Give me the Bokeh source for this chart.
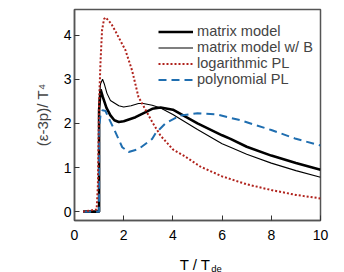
from bokeh.plotting import figure
from bokeh.layouts import column
from bokeh.models import Legend, LegendItem, Range1d
from bokeh.core.properties import value
from bokeh.embed import file_html
from bokeh.resources import INLINE

# ---- data ----
t_mm = [0.35, 1.0, 1.0, 1.06, 1.15, 1.3, 1.46, 1.62, 1.8, 2.0, 2.48, 3.16, 3.5, 4.0, 5.0, 6.0, 6.34, 7.0, 8.0, 9.0, 10.0]
v_mm = [0.0, 0.0, 2.3, 2.77, 2.6, 2.35, 2.18, 2.07, 2.03, 2.05, 2.14, 2.33, 2.36, 2.31, 2.0, 1.73, 1.65, 1.47, 1.27, 1.1, 0.95]

t_mb = [0.35, 1.0, 1.0, 1.06, 1.14, 1.22, 1.32, 1.46, 1.8, 2.0, 2.3, 2.6, 2.8, 3.16, 3.5, 4.0, 5.0, 6.0, 6.34, 7.0, 8.0, 9.0, 10.0]
v_mb = [0.0, 0.0, 2.5, 2.9, 3.0, 2.88, 2.68, 2.52, 2.4, 2.37, 2.4, 2.45, 2.45, 2.41, 2.35, 2.2, 1.86, 1.54, 1.46, 1.3, 1.1, 0.93, 0.78]

t_log = [0.35, 0.9, 0.95, 1.0, 1.06, 1.12, 1.2, 1.26, 1.35, 1.5, 1.67, 2.07, 2.34, 2.6, 3.16, 3.5, 4.0, 4.44, 5.12, 6.0, 7.0, 8.0, 9.0, 10.0]
v_log = [0.0, 0.05, 0.6, 2.5, 3.43, 4.11, 4.36, 4.4, 4.35, 4.25, 4.08, 3.66, 3.2, 2.6, 2.03, 1.72, 1.41, 1.27, 1.02, 0.8, 0.62, 0.49, 0.38, 0.3]

t_poly = [0.35, 1.0, 1.0, 1.06, 1.14, 1.26, 1.45, 1.6, 1.94, 2.2, 2.61, 3.16, 3.3, 3.7, 4.3, 5.0, 5.8, 6.75, 8.0, 9.0, 10.0]
v_poly = [0.0, 0.0, 1.9, 2.2, 2.3, 2.28, 2.05, 1.88, 1.46, 1.35, 1.42, 1.65, 1.78, 2.0, 2.18, 2.23, 2.2, 2.07, 1.85, 1.65, 1.5]

names = ["matrix model", "matrix model w/ B", "logarithmic PL", "polynomial PL"]
x_ticks = [0, 2, 4, 6, 8, 10]
y_ticks = [0, 1, 2, 3, 4]
x_title = "T / T"
x_title_sub = "de"
y_title = "(ε-3p)/ T⁴"

FONT = "Liberation Sans"

p = figure(width=344, height=248, output_backend="svg", toolbar_location=None,
           x_range=Range1d(0, 10), y_range=Range1d(-0.2, 4.58),
           min_border_left=74, min_border_right=24, min_border_top=9, min_border_bottom=28)
p.grid.visible = False
p.outline_line_color = "#555555"
p.outline_line_width = 1.5

r_mm = p.line(t_mm, v_mm, line_color="black", line_width=2.6)
r_mb = p.line(t_mb, v_mb, line_color="black", line_width=1.1)
r_poly = p.line(t_poly, v_poly, line_color="#1f6eb0", line_width=2.0, line_dash="8 5")
r_log = p.line(t_log, v_log, line_color="#b0221c", line_width=2.0, line_dash="2 2")

legend = Legend(items=[LegendItem(label=names[0], renderers=[r_mm]),
                       LegendItem(label=names[1], renderers=[r_mb]),
                       LegendItem(label=names[2], renderers=[r_log]),
                       LegendItem(label=names[3], renderers=[r_poly])],
                location=(79, 128))
legend.border_line_alpha = 0
legend.background_fill_alpha = 0
legend.label_text_font = FONT
legend.label_text_font_size = "14.6px"
legend.glyph_width = 35
legend.glyph_height = 15
legend.label_height = 15
legend.label_standoff = 4
legend.spacing = -2
legend.padding = 5
legend.margin = 0
p.add_layout(legend)

for ax in (p.xaxis[0], p.yaxis[0]):
    ax.axis_line_color = "#555555"
    ax.axis_line_width = 1.5
    ax.major_tick_line_color = "#333333"
    ax.minor_tick_line_color = "#333333"
    ax.major_tick_in = 5
    ax.major_tick_out = 0
    ax.minor_tick_in = 3
    ax.minor_tick_out = 0
    ax.major_label_text_font = FONT
    ax.major_label_text_font_size = "14px"
    ax.major_label_text_color = "black"
    ax.axis_label_text_font = FONT
    ax.axis_label_text_font_style = "normal"
    ax.axis_label_text_font_size = "15px"

p.xaxis.ticker = x_ticks
p.xaxis[0].ticker.num_minor_ticks = 4
p.yaxis.ticker = y_ticks
p.yaxis[0].ticker.num_minor_ticks = 5
p.xaxis.major_label_standoff = 9
p.yaxis.major_label_standoff = 3
p.yaxis.axis_label = y_title
p.yaxis.axis_label_standoff = 10

# x-axis title (with subscript) in a thin strip below the plot
p2 = figure(width=344, height=24, output_backend="svg", toolbar_location=None,
            x_range=p.x_range, y_range=Range1d(0, 24), x_axis_type=None, y_axis_type=None,
            min_border_left=74, min_border_right=24, min_border_top=0, min_border_bottom=0)
p2.grid.visible = False
p2.outline_line_color = None
p2.text(x=[5.53], y=[8.5], text=[x_title], text_font=value(FONT), text_font_size="15px",
        text_align="right", text_baseline="alphabetic", text_color="black")
p2.text(x=[5.56], y=[4.5], text=[x_title_sub], text_font=value(FONT), text_font_size="9.5px",
        text_align="left", text_baseline="alphabetic", text_color="black")

layout = column(p, p2, spacing=0)
open("out.html", "w").write(file_html(layout, INLINE))
